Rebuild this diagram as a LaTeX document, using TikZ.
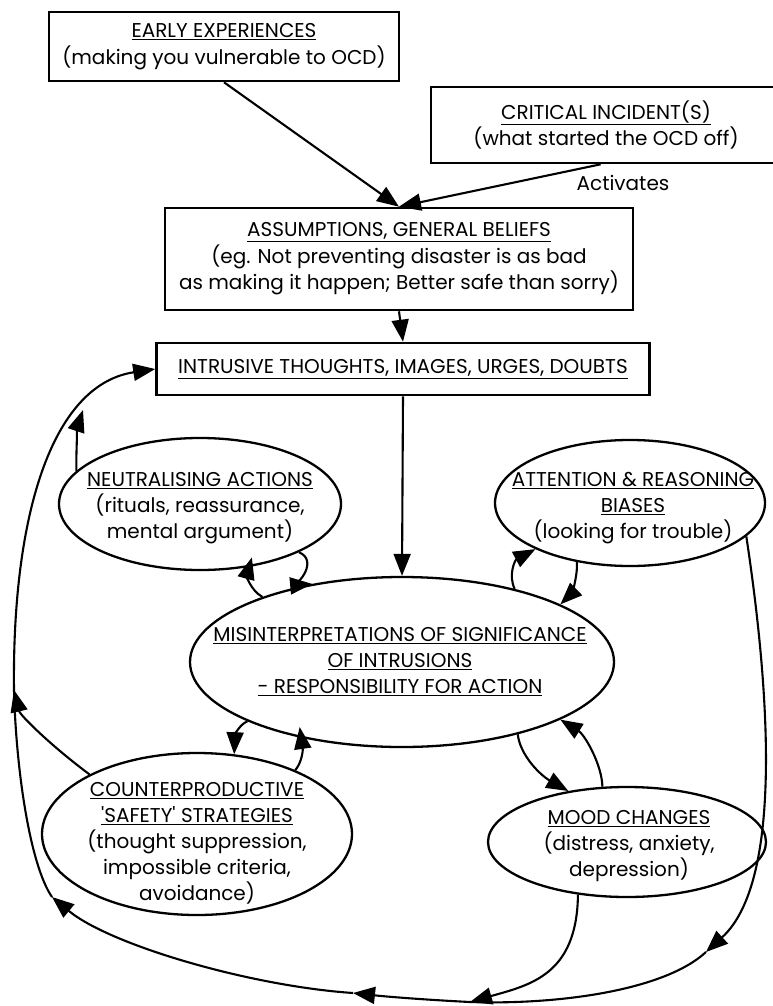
\documentclass[tikz,border=0pt]{standalone}
\usepackage{fontspec}
\setmainfont{Poppins}
\usetikzlibrary{arrows.meta,shapes.geometric,calc}
\begin{document}
\begin{tikzpicture}[x=1pt,y=-1pt,
  line width=2.1pt,
  tip/.style={-{Triangle[length=22pt,width=17pt]}},
  box/.style={draw, line width=2.6pt, rectangle, inner sep=0pt, align=center, font=\fontsize{20}{26.5}\selectfont},
  ell/.style={draw, line width=2.3pt, ellipse, inner sep=0pt},
  txt/.style={align=center, font=\fontsize{20}{26}\selectfont, inner sep=0pt},
]
\useasboundingbox (0,0) rectangle (772,1006);

% boxes
\node[box, minimum width=350pt, minimum height=69pt] (early) at (224,46.5)
  {\underline{EARLY EXPERIENCES}\\(making you vulnerable to OCD)};
\node[box, minimum width=369pt, minimum height=76pt] (crit) at (615.5,125) {};
\node[txt] (critt) at (606,125) {\underline{CRITICAL INCIDENT(S)}\\(what started the OCD off)};
\node[txt] (activ) at (623,183) {Activates};
\node[box, minimum width=468pt, minimum height=102pt] (assum) at (399,259)
  {\underline{ASSUMPTIONS, GENERAL BELIEFS}\\(eg. Not preventing disaster is as bad\\as making it happen; Better safe than sorry)};
\node[box, minimum width=493pt, minimum height=52pt] (intr) at (403,369)
  {\underline{INTRUSIVE THOUGHTS, IMAGES, URGES, DOUBTS}};

% ellipses
\node[ell, minimum width=282pt, minimum height=132pt] (neu) at (200,504) {};
\node[txt] (neut) at (200,508) {\underline{NEUTRALISING ACTIONS}\\(rituals, reassurance,\\mental argument)};
\node[ell, minimum width=270pt, minimum height=126pt] (att) at (630,503) {};
\node[txt] (attt) at (633,508) {\underline{ATTENTION \& REASONING}\\\underline{BIASES}\\(looking for trouble)};
\node[ell, minimum width=424pt, minimum height=170pt] (mis) at (402,662) {};
\node[txt] (mist) at (400,662) {\underline{MISINTERPRETATIONS OF SIGNIFICANCE}\\\underline{OF INTRUSIONS}\\\underline{- RESPONSIBILITY FOR ACTION}};
\node[ell, minimum width=310pt, minimum height=162pt] (cou) at (197,834) {};
\node[txt] (cout) at (197,843) {\underline{COUNTERPRODUCTIVE}\\\underline{\textquotesingle SAFETY\textquotesingle{} STRATEGIES}\\(thought suppression,\\impossible criteria,\\avoidance)};
\node[ell, minimum width=278pt, minimum height=110pt] (mood) at (627,842) {};
\node[txt] (moodt) at (629,846) {\underline{MOOD CHANGES}\\(distress, anxiety,\\depression)};

% coordinates on the big loop
\coordinate (bot) at (470,1002);
\coordinate (ah1) at (353,993);
\coordinate (ah2) at (52,897);
\coordinate (j1) at (14,690);
\coordinate (j2) at (83,410);
\coordinate (ah3) at (706,952);

% top connectors
\draw[tip] (early.south) -- (assum.north);
\draw[tip] ($(crit.south west)!0.46!(crit.south east)$) -- (assum.north);
\draw[tip] (assum.south) -- (intr.north);
\draw[tip] (intr.south) -- (mis.north);

% big loop
\draw[tip] (bot) .. controls (430,1000) and (390,997) .. (ah1);
\draw[tip] (ah1) .. controls (250,986) and (110,945) .. (ah2);
\draw (ah2) .. controls (30,865) and (16,770) .. (j1);
\draw[tip] (j1) .. controls (12,520) and (50,385) .. (intr.west);
\draw[tip] (cou.151) .. controls (50,745) and (20,715) .. (j1);
\draw[tip] (neu.165) .. controls (76,450) and (78,425) .. (j2);
\draw[tip] (att.344) .. controls (768,680) and (785,880) .. (ah3);
\draw (ah3) .. controls (665,990) and (560,1005) .. (bot);
\draw[tip] (mood.227) .. controls (577,975) and (530,985) .. (bot);

% short connectors around the centre
\draw[tip, shorten >=-10pt] (mis.155) .. controls (250,590) and (247,575) .. (neu.308);
\draw[tip] (neu.334) .. controls (318,560) and (300,585) .. (mis.139);
\draw[tip] (mis.33) .. controls (508,575) and (515,560) .. (att.206);
\draw[tip] (att.228) .. controls (578,578) and (570,595) .. (mis.20);
\draw[tip] (mis.201) .. controls (240,724) and (235,735) .. (cou.65);
\draw[tip, shorten >=-11pt] (cou.33) .. controls (302,762) and (303,750) .. (mis.217);
\draw[tip] (mis.328) .. controls (520,755) and (540,775) .. (mood.139);
\draw[tip] (mood.114) .. controls (602,765) and (585,735) .. (mis.340);
\end{tikzpicture}
\end{document}
